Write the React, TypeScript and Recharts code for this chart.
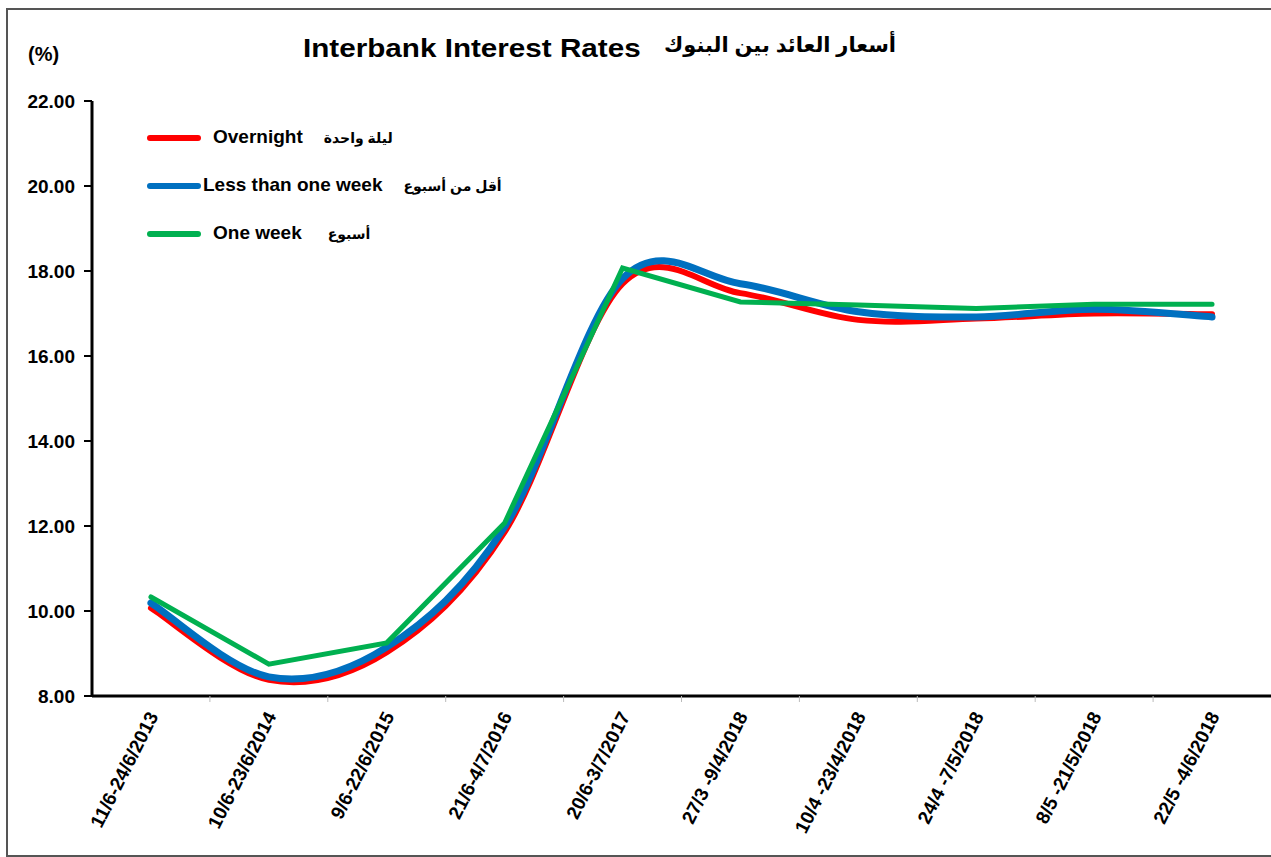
import React from 'react';
import { LineChart, Line, XAxis, YAxis } from 'recharts';

const categories = [
  '11/6-24/6/2013',
  '10/6-23/6/2014',
  '9/6-22/6/2015',
  '21/6-4/7/2016',
  '20/6-3/7/2017',
  '27/3 -9/4/2018',
  '10/4 -23/4/2018',
  '24/4 -7/5/2018',
  '8/5 -21/5/2018',
  '22/5 -4/6/2018',
];
const overnight = [10.07, 8.38, 9.03, 11.86, 17.7, 17.48, 16.85, 16.88, 17.0, 16.98];
const lessThanWeek = [10.19, 8.45, 9.15, 11.98, 17.82, 17.7, 17.04, 16.92, 17.1, 16.92];
const oneWeek = [10.33, 8.75, 9.25, 12.07, 18.07, 17.27, 17.2, 17.12, 17.22, 17.22];
const yTicks = [8, 10, 12, 14, 16, 18, 20, 22];

const seriesInfo = [
  { key: 'overnight', en: 'Overnight', ar: 'ليلة واحدة', color: '#FF0000', width: 6, smooth: true },
  { key: 'less', en: 'Less than one week', ar: 'أقل من أسبوع', color: '#0070C0', width: 7, smooth: true },
  { key: 'week', en: 'One week', ar: 'أسبوع', color: '#00B050', width: 5, smooth: false },
];

const data = categories.map((c, i) => ({
  name: c,
  overnight: overnight[i],
  less: lessThanWeek[i],
  week: oneWeek[i],
}));

const FONT = '"Liberation Sans", Arial, "DejaVu Sans", sans-serif';

const CHART_W = 1271;
const CHART_H = 857;
const MARGIN = { top: 101, right: 0, left: 12, bottom: 11 };
const Y_W = 80;
const PLOT_W = CHART_W - MARGIN.left - MARGIN.right - Y_W;
const BAND = PLOT_W / categories.length;

// Excel-like smoothing (Catmull-Rom through points)
const excelCurve = (context: any) => {
  let pts: [number, number][] = [];
  return {
    areaStart() {},
    areaEnd() {},
    lineStart() {
      pts = [];
    },
    lineEnd() {
      if (!pts.length) return;
      context.moveTo(pts[0][0], pts[0][1]);
      for (let i = 0; i < pts.length - 1; i++) {
        const p0 = pts[Math.max(i - 1, 0)];
        const p1 = pts[i];
        const p2 = pts[i + 1];
        const p3 = pts[Math.min(i + 2, pts.length - 1)];
        context.bezierCurveTo(
          p1[0] + (p2[0] - p0[0]) / 6,
          p1[1] + (p2[1] - p0[1]) / 6,
          p2[0] - (p3[0] - p1[0]) / 6,
          p2[1] - (p3[1] - p1[1]) / 6,
          p2[0],
          p2[1]
        );
      }
    },
    point(x: number, y: number) {
      pts.push([+x, +y]);
    },
  };
};

const XTick = (props: any) => {
  const { x, y, payload, index } = props;
  return (
    <g>
      {index > 0 && (
        <line x1={x - BAND / 2} x2={x - BAND / 2} y1={y - 10} y2={y - 16} stroke="#bbb" strokeWidth={1} />
      )}
      <g transform={`translate(${x + 2},${y + 1})`}>
        <text
          textAnchor="end"
          transform="rotate(-63)"
          dy="0.35em"
          fontFamily={FONT}
          fontWeight="bold"
          fontSize={19}
          fill="#000"
        >
          {payload.value}
        </text>
      </g>
    </g>
  );
};

const LegendBox = () => (
  <div
    style={{
      position: 'absolute',
      left: 147,
      top: 126,
      fontFamily: FONT,
      fontWeight: 'bold',
      fontSize: 19,
      color: '#000',
    }}
  >
    {seriesInfo.map((s, i) => (
      <div key={s.key} style={{ position: 'relative', height: 48, width: 400 }}>
        <div
          style={{
            position: 'absolute',
            left: 0,
            top: 9,
            width: 54,
            height: 6,
            borderRadius: 3,
            background: s.color,
          }}
        />
        <span style={{ position: 'absolute', left: i === 1 ? 56 : 66, top: 0, whiteSpace: 'nowrap' }}>
          {s.en}
          <span style={{ marginLeft: i === 2 ? 26 : 21, fontSize: 14 }} dir="rtl">{s.ar}</span>
        </span>
      </div>
    ))}
  </div>
);

export default function App() {
  return (
    <div style={{ position: 'fixed', left: 0, top: 0, width: CHART_W, height: CHART_H, background: '#fff', overflow: 'hidden' }}>
      <div
        style={{
          position: 'absolute',
          left: 6,
          top: 8,
          width: 1300,
          height: 845,
          border: '2px solid #555',
        }}
      />
      <div
        style={{
          position: 'absolute',
          left: 28,
          top: 43,
          fontFamily: FONT,
          fontWeight: 'bold',
          fontSize: 20,
        }}
      >
        (%)
      </div>
      <div
        style={{
          position: 'absolute',
          left: 303,
          top: 33,
          fontFamily: FONT,
          fontWeight: 'bold',
          fontSize: 26,
          whiteSpace: 'nowrap',
          transform: 'scaleX(1.14)',
          transformOrigin: 'left top',
        }}
      >
        Interbank Interest Rates
      </div>
      <div
        dir="rtl"
        style={{
          position: 'absolute',
          left: 670,
          top: 33,
          width: 226,
          fontFamily: FONT,
          fontWeight: 'bold',
          fontSize: 21,
          whiteSpace: 'nowrap',
          textAlign: 'center',
        }}
      >
        أسعار العائد بين البنوك
      </div>
      <div style={{ position: 'absolute', left: 0, top: 0 }}>
        <LineChart width={CHART_W} height={CHART_H} data={data} margin={MARGIN}>
          <XAxis
            dataKey="name"
            scale="band"
            interval={0}
            height={150}
            axisLine={{ stroke: '#000', strokeWidth: 3 }}
            tickLine={false}
            tick={<XTick />}
            tickMargin={10}
          />
          <YAxis
            width={Y_W}
            domain={[8, 22]}
            ticks={yTicks}
            interval={0}
            allowDataOverflow
            tickFormatter={(v: number) => v.toFixed(2)}
            axisLine={{ stroke: '#000', strokeWidth: 3 }}
            tickLine={{ stroke: '#000', strokeWidth: 2 }}
            tickSize={8}
            tickMargin={9}
            tick={{ fontFamily: FONT, fontWeight: 'bold', fontSize: 19, fill: '#000' }}
          />
          {seriesInfo.map((s) => (
            <Line
              key={s.key}
              dataKey={s.key}
              name={s.en}
              type={s.smooth ? (excelCurve as any) : 'linear'}
              stroke={s.color}
              strokeWidth={s.width}
              strokeLinecap="round"
              dot={false}
              activeDot={false}
              isAnimationActive={false}
            />
          ))}
        </LineChart>
      </div>
      <LegendBox />
    </div>
  );
}
